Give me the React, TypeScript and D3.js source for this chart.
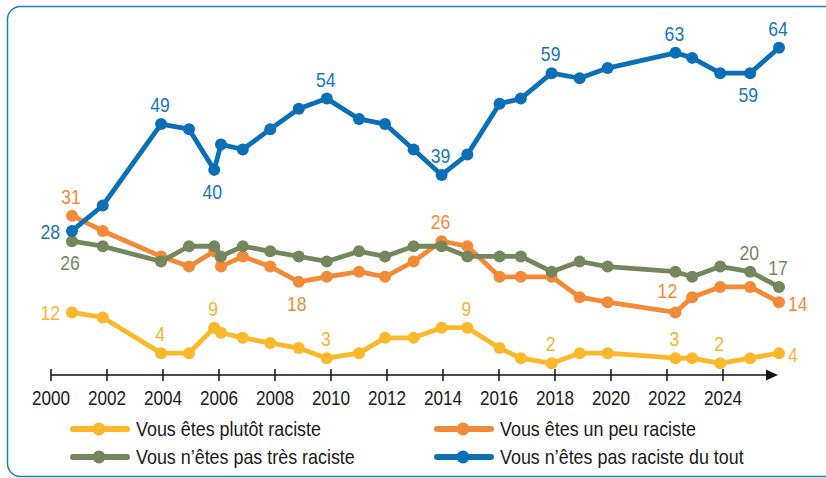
import React from "react";
import * as d3 from "d3";

// survey dates (decimal years)
const dates = [
  2000.75, 2001.85, 2003.93, 2004.93, 2005.83, 2006.07, 2006.85, 2007.83,
  2008.85, 2009.85, 2011.0, 2011.93, 2012.95, 2013.95, 2014.87, 2016.02,
  2016.78, 2017.88, 2018.88, 2019.88, 2022.3, 2022.9, 2023.9, 2024.97, 2026.0,
];

const plutotRaciste = [12, 11, 4, 4, 9, 8, 7, 6, 5, 3, 4, 7, 7, 9, 9, 5, 3, 2, 4, 4, 3, 3, 2, 3, 4];
const unPeuRaciste = [31, 28, 23, 21, 24, 21, 23, 21, 18, 19, 20, 19, 22, 26, 25, 19, 19, 19, 15, 14, 12, 15, 17, 17, 14];
const pasTresRaciste = [26, 25, 22, 25, 25, 23, 25, 24, 23, 22, 24, 23, 25, 25, 23, 23, 23, 20, 22, 21, 20, 19, 21, 20, 17];
const pasRacisteDuTout = [28, 33, 49, 48, 40, 45, 44, 48, 52, 54, 50, 49, 44, 39, 43, 53, 54, 59, 58, 60, 63, 62, 59, 59, 64];

const seriesNames = [
  "Vous êtes plutôt raciste",
  "Vous êtes un peu raciste",
  "Vous n’êtes pas très raciste",
  "Vous n’êtes pas raciste du tout",
];
const seriesColors = ["#fbb82b", "#f28a38", "#74875c", "#0b6fb6"];
const labelColors = ["#f9b52e", "#f28a38", "#74875c", "#1676bd"];

const tickYears = [2000, 2002, 2004, 2006, 2008, 2010, 2012, 2014, 2016, 2018, 2020, 2022, 2024];

// value labels: [series index, point index, placement]
const valueLabels: [number, number, string][] = [
  [3, 0, "left"], [3, 2, "above"], [3, 4, "below"], [3, 9, "above"], [3, 13, "above"],
  [3, 17, "above"], [3, 20, "above"], [3, 23, "below"], [3, 24, "above"],
  [1, 0, "above"], [1, 8, "below"], [1, 13, "above"], [1, 20, "aboveLeft"], [1, 24, "right"],
  [2, 0, "below"], [2, 23, "above"], [2, 24, "above"],
  [0, 0, "left"], [0, 2, "above"], [0, 4, "above"], [0, 9, "above"], [0, 14, "above"],
  [0, 17, "above"], [0, 20, "above"], [0, 22, "above"], [0, 24, "right"],
];

const FONT = "'Liberation Sans', Arial, sans-serif";

function CText(props: {
  x: number;
  y: number;
  size: number;
  fill: string;
  sx?: number;
  anchor?: string;
  children: React.ReactNode;
}) {
  const { x, y, size, fill, sx = 0.88, anchor = "start", children } = props;
  return (
    <text
      transform={`translate(${x},${y}) scale(${sx},1)`}
      textAnchor={anchor as any}
      fontFamily={FONT}
      fontSize={size}
      fill={fill}
    >
      {children}
    </text>
  );
}

export default function App() {
  const W = 826;
  const H = 478;
  const allSeries = [plutotRaciste, unPeuRaciste, pasTresRaciste, pasRacisteDuTout];

  const x = d3.scaleLinear().domain([2000, 2026]).range([51, 779]);
  const y = d3.scaleLinear().domain([0, 64]).range([373.5, 47.7]);
  const axisY = 375;

  const line = d3
    .line<number>()
    .x((_, i) => x(dates[i]))
    .y((d) => y(d));

  const drawOrder = [0, 1, 2, 3];

  const labelPos = (s: number, i: number, p: string) => {
    const px = x(dates[i]);
    const py = y(allSeries[s][i]);
    switch (p) {
      case "above":
        return { tx: px - 1, ty: py - 12, anchor: "middle" };
      case "below":
        return { tx: px - 2, ty: py + 29, anchor: "middle" };
      case "left":
        return { tx: px - 12, ty: py + 8, anchor: "end" };
      case "right":
        return { tx: px + 9, ty: py + 9, anchor: "start" };
      case "aboveLeft":
        return { tx: px - 8, ty: py - 14, anchor: "middle" };
      default:
        return { tx: px, ty: py, anchor: "middle" };
    }
  };

  const legendItems = [
    { s: 0, lx: 73, ly: 429 },
    { s: 1, lx: 437, ly: 429 },
    { s: 2, lx: 73, ly: 457 },
    { s: 3, lx: 437, ly: 457 },
  ];

  return (
    <svg width={W} height={H} style={{ position: "absolute", left: 0, top: 0, background: "#fff" }}>
      <rect x={7.5} y={6.5} width={900} height={470} rx={13} ry={13} fill="none" stroke="#1a7fc6" strokeWidth={1.5} />

      {/* axis */}
      <line x1={x(2000)} x2={768} y1={axisY} y2={axisY} stroke="#111" strokeWidth={1.5} />
      <path d={`M766,${axisY - 5.5} L778,${axisY} L766,${axisY + 5.5} Z`} fill="#111" />
      {tickYears.map((t) => (
        <g key={t}>
          <line x1={x(t)} x2={x(t)} y1={axisY - 6} y2={axisY + 6} stroke="#111" strokeWidth={1.5} />
          <CText x={x(t)} y={405} anchor="middle" size={19.5} fill="#1a1a1a">
            {t}
          </CText>
        </g>
      ))}

      {/* lines */}
      {drawOrder.map((s) => (
        <g key={s}>
          <path d={line(allSeries[s]) || ""} fill="none" stroke={seriesColors[s]} strokeWidth={4.8} strokeLinejoin="round" />
          {allSeries[s].map((v, i) => (
            <circle key={i} cx={x(dates[i])} cy={y(v)} r={6} fill={seriesColors[s]} />
          ))}
        </g>
      ))}

      {/* value labels */}
      {valueLabels.map(([s, i, p], k) => {
        const { tx, ty, anchor } = labelPos(s, i, p);
        return (
          <CText key={k} x={tx} y={ty} anchor={anchor} size={20} fill={labelColors[s]}>
            {allSeries[s][i]}
          </CText>
        );
      })}

      {/* legend */}
      {legendItems.map(({ s, lx, ly }) => (
        <g key={s}>
          <line x1={lx} x2={lx + 54} y1={ly} y2={ly} stroke={seriesColors[s]} strokeWidth={6} strokeLinecap="round" />
          <circle cx={lx + 26} cy={ly} r={6.5} fill={seriesColors[s]} />
          <CText x={lx + 63} y={ly + 7} size={20} sx={0.895} fill="#1a1a1a">
            {seriesNames[s]}
          </CText>
        </g>
      ))}
    </svg>
  );
}
